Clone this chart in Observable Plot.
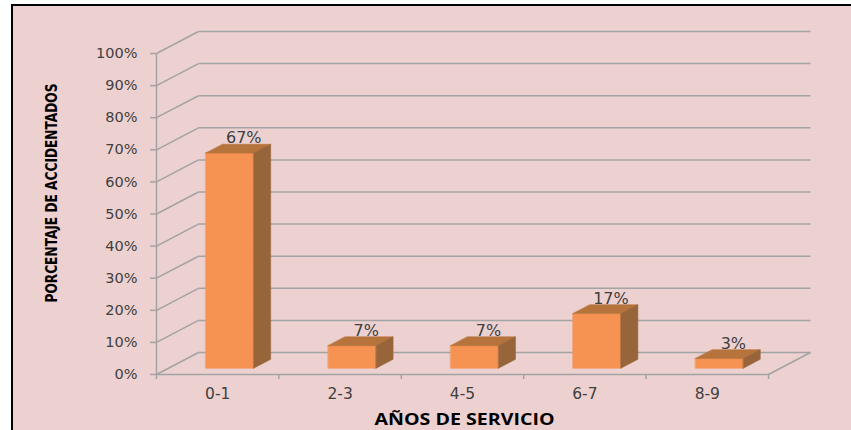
<!DOCTYPE html>
<html><head><meta charset="utf-8">
<script src="https://cdn.jsdelivr.net/npm/d3@7"></script>
<script src="https://cdn.jsdelivr.net/npm/@observablehq/plot@0.6"></script>
<style>
html,body{margin:0;padding:0;background:#fff;overflow:hidden}
#wrap{position:relative;width:851px;height:430px;background:#fff}
#panel{position:absolute;left:11px;top:4px;width:840px;height:426px;border-left:2px solid #000;border-top:2px solid #000;background:#EDD1D0;box-sizing:border-box}
#chart{position:absolute;left:0;top:0}
</style></head><body>
<div id="wrap"><div id="panel"></div><div id="chart"></div></div>
<script>
// ---- data ----
const categories = ["0-1", "2-3", "4-5", "6-7", "8-9"];
const values = [67, 7, 7, 17, 3];
const valueLabels = ["67%", "7%", "7%", "17%", "3%"];
const yTicks = [0, 10, 20, 30, 40, 50, 60, 70, 80, 90, 100];
const yTickLabels = ["0%", "10%", "20%", "30%", "40%", "50%", "60%", "70%", "80%", "90%", "100%"];
const xTitle = "AÑOS DE SERVICIO";
const yTitle = "PORCENTAJE DE ACCIDENTADOS";

// ---- 3D oblique projection (style constants, in scale units) ----
const DX = 0.343;   // depth shift along x (category units)
const DY = 6.85;    // depth shift along y (percent units)
const BAR_W = 0.392;
const T0 = 0.287, T1 = 0.69;
const n = categories.length;
const P = (x, v, t) => ({x: x + t * DX, y: v + t * DY});
const seg = (a, b) => ({x1: a.x, y1: a.y, x2: b.x, y2: b.y});

const grid = [];
for (const v of yTicks) {
  grid.push(seg(P(0, v, 1), P(n, v, 1)));   // back wall
  grid.push(seg(P(0, v, 0), P(0, v, 1)));   // side wall
}
grid.push(seg(P(0, 0, 0), P(n, 0, 0)));     // floor front
grid.push(seg(P(n, 0, 0), P(n, 0, 1)));     // floor right
grid.push(seg(P(0, 0, 0), P(0, yTicks[yTicks.length - 1], 0))); // value axis line

const frontFaces = [], topFaces = [], sideFaces = [];
values.forEach((v, i) => {
  const a = i + 0.5 - BAR_W / 2, b = i + 0.5 + BAR_W / 2;
  [P(a, 0, T0), P(b, 0, T0), P(b, v, T0), P(a, v, T0)].forEach(p => frontFaces.push({id: i, ...p}));
  [P(a, v, T0), P(b, v, T0), P(b, v, T1), P(a, v, T1)].forEach(p => topFaces.push({id: i, ...p}));
  [P(b, 0, T0), P(b, 0, T1), P(b, v, T1), P(b, v, T0)].forEach(p => sideFaces.push({id: i, ...p}));
});

const idx = d3.range(n);
const gridColor = "#a3a3a3";
const textColor = "#404040";
const face = (data, color) => Plot.line(data, {x: "x", y: "y", z: "id", fill: color, stroke: color, strokeWidth: 0.6, curve: "linear-closed"});

const chart = Plot.plot({
  width: 851, height: 430,
  marginLeft: 156, marginRight: 83, marginTop: 53, marginBottom: 56,
  style: {background: "transparent", fontFamily: "DejaVu Sans", overflow: "visible"},
  x: {type: "linear", domain: [0, n]},
  y: {type: "linear", domain: [0, 100]},
  marks: [
    Plot.link(grid, {x1: "x1", y1: "y1", x2: "x2", y2: "y2", stroke: gridColor, strokeWidth: 1.5}),
    Plot.axisY(yTicks, {tickSize: 6, tickPadding: 13, stroke: gridColor, strokeWidth: 1.5, fill: textColor, fontSize: 14.5,
      tickFormat: d => yTickLabels[yTicks.indexOf(d)], label: null}),
    Plot.axisX(d3.range(n + 1), {tickSize: 5, stroke: gridColor, strokeWidth: 1.5, tickFormat: () => "", label: null}),
    face(frontFaces, "#F79352"),
    face(topFaces, "#B6733C"),
    face(sideFaces, "#976539"),
    Plot.text(idx, {x: i => i + 0.5, y: () => 0, text: i => categories[i], dy: 20, fill: textColor, fontSize: 15.5}),
    Plot.text(idx, {x: i => P(i + 0.5, 0, T0).x, y: i => P(0, values[i], T0).y, text: i => valueLabels[i],
      dx: 14, dy: -15, fill: textColor, fontSize: 16}),
    Plot.text([yTitle], {frameAnchor: "left", textAnchor: "middle", lineAnchor: "middle", dx: -104, dy: -21, rotate: -90,
      fontWeight: "bold", fontSize: 15,
      fontFamily: "Liberation Sans Narrow, DejaVu Sans Condensed, Liberation Sans", fill: "#000"}),
    Plot.text([xTitle], {frameAnchor: "bottom", textAnchor: "middle", lineAnchor: "middle", dx: 2, dy: 45,
      fontWeight: "bold", fontSize: 16,
      fontFamily: "Open Sans, Liberation Sans", fill: "#000"})
  ]
});
document.getElementById("chart").appendChild(chart);
d3.select(chart).selectAll("text").each(function() {
  const t = this.textContent;
  if (t === yTitle) d3.select(this).attr("textLength", 219).attr("lengthAdjust", "spacingAndGlyphs");
  if (t === xTitle) d3.select(this).attr("textLength", 180).attr("lengthAdjust", "spacingAndGlyphs");
});
</script>
</body></html>
